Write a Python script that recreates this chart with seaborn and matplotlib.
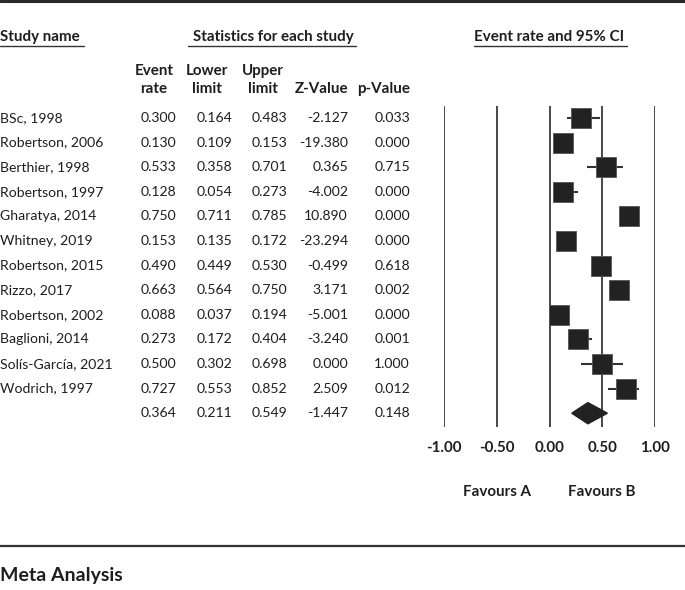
import matplotlib
matplotlib.use("Agg")
import matplotlib.pyplot as plt
from matplotlib.lines import Line2D
from matplotlib.patches import Polygon
import seaborn as sns
import pandas as pd

studies = ["BSc, 1998", "Robertson, 2006", "Berthier, 1998", "Robertson, 1997",
           "Gharatya, 2014", "Whitney, 2019", "Robertson, 2015", "Rizzo, 2017",
           "Robertson, 2002", "Baglioni, 2014", "Solís-García, 2021", "Wodrich, 1997"]
event_rate = [0.300, 0.130, 0.533, 0.128, 0.750, 0.153, 0.490, 0.663, 0.088, 0.273, 0.500, 0.727]
lower = [0.164, 0.109, 0.358, 0.054, 0.711, 0.135, 0.449, 0.564, 0.037, 0.172, 0.302, 0.553]
upper = [0.483, 0.153, 0.701, 0.273, 0.785, 0.172, 0.530, 0.750, 0.194, 0.404, 0.698, 0.852]
z_value = [-2.127, -19.380, 0.365, -4.002, 10.890, -23.294, -0.499, 3.171, -5.001, -3.240, 0.000, 2.509]
p_value = [0.033, 0.000, 0.715, 0.000, 0.000, 0.000, 0.618, 0.002, 0.000, 0.001, 1.000, 0.012]
summary = {"rate": 0.364, "lower": 0.211, "upper": 0.549, "z": -1.447, "p": 0.148}
x_ticks = [-1.0, -0.5, 0.0, 0.5, 1.0]
x_tick_labels = ["-1.00", "-0.50", "0.00", "0.50", "1.00"]

sns.set_theme(style="white")
FONT = "Lato"
plt.rcParams["font.family"] = [FONT, "DejaVu Sans"]

W, H = 685, 590
fig = plt.figure(figsize=(W / 100, H / 100), dpi=100)
TXT = "#1e1e1e"
FS = 10.1
FSB = 10.9


def px(x, y):
    return x / W, 1 - y / H


def ftext(x, y, s, ha="left", bold=False, size=None):
    fx, fy = px(x, y)
    if size is None:
        size = FSB if bold else FS
    fig.text(fx, fy, s, ha=ha, va="center", fontsize=size, color=TXT,
             fontweight="bold" if bold else "normal")


def fline(x0, x1, y, lw=1.0, color="#333333"):
    a0, b0 = px(x0, y)
    a1, b1 = px(x1, y)
    fig.add_artist(Line2D([a0, a1], [b0, b1], lw=lw, color=color))


# Forest plot axes: x -1..1 -> px 444..655, lines from y 106 to 427
row0, rstep = 118.0, 24.6
ax_top, ax_bot = 106, 427
x_left, x_right = 444, 655
ax = fig.add_axes([x_left / W, 1 - ax_bot / H, (x_right - x_left) / W, (ax_bot - ax_top) / H])
for xv in x_ticks:
    ax.axvline(xv, color="#3a3a3a", lw=1.3, zorder=1)

n = len(studies)
rows = list(range(n))
df = pd.DataFrame({"study": studies, "rate": event_rate, "lower": lower,
                   "upper": upper, "row": rows})
ax.hlines(df["row"], df["lower"], df["upper"], color="#333333", lw=1.5, zorder=2)
sns.scatterplot(data=df, x="rate", y="row", marker="s", s=190, color="#222222",
                edgecolor="#555555", linewidth=0.6, ax=ax, zorder=3, legend=False)
hh = 0.43
diamond = Polygon([[summary["lower"], n], [summary["rate"], n - hh],
                   [summary["upper"], n], [summary["rate"], n + hh]],
                  closed=True, facecolor="#222222", edgecolor="#222222", zorder=3)
ax.add_patch(diamond)
ax.set_xlim(-1, 1)
ax.set_ylim((ax_bot - row0) / rstep, (ax_top - row0) / rstep)
ax.axis("off")

# tick labels
for xv, lab in zip(x_ticks, x_tick_labels):
    xp = x_left + (xv + 1) / 2 * (x_right - x_left)
    ftext(xp, 448, lab, ha="center", bold=True)
ftext(x_left + 0.25 * (x_right - x_left), 492, "Favours A", ha="center", bold=True)
ftext(x_left + 0.75 * (x_right - x_left), 492, "Favours B", ha="center", bold=True)

# headers
ftext(0, 37, "Study name", bold=True)
fline(0, 84, 46)
ftext(273, 37, "Statistics for each study", ha="center", bold=True)
fline(188, 356, 46)
ftext(549, 37, "Event rate and 95% CI", ha="center", bold=True)
fline(474, 627, 46)

col_right = [176, 232, 287, 348, 410]
hdr_center = [154, 207, 263, 322, 384]
hdr1 = ["Event", "Lower", "Upper", "", ""]
hdr2 = ["rate", "limit", "limit", "Z-Value", "p-Value"]
for c, a, b in zip(hdr_center, hdr1, hdr2):
    if a:
        ftext(c, 71, a, ha="center", bold=True)
    ftext(c, 89, b, ha="center", bold=True)

for i in range(n):
    y = row0 + i * rstep
    ftext(0, y, studies[i])
    vals = [event_rate[i], lower[i], upper[i], z_value[i], p_value[i]]
    for xr, v in zip(col_right, vals):
        ftext(xr, y, f"{v:.3f}", ha="right")
y = row0 + n * rstep
for xr, v in zip(col_right, [summary["rate"], summary["lower"], summary["upper"], summary["z"], summary["p"]]):
    ftext(xr, y, f"{v:.3f}", ha="right")

# frame lines
fline(0, W, 1.2, lw=2.2, color="#2a2a2a")
fline(0, W, 546, lw=1.6, color="#333333")
ftext(0, 576, "Meta Analysis", bold=True, size=14)

fig.savefig("out.png", dpi=100, facecolor="white")
